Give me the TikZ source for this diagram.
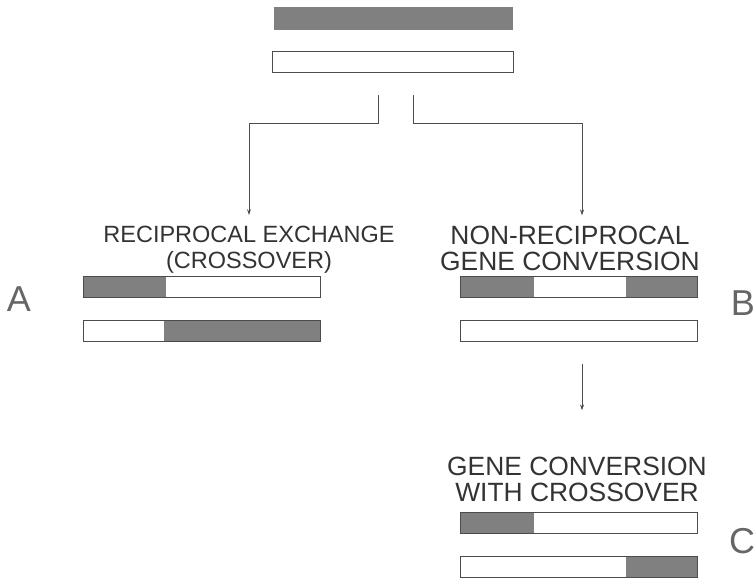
\documentclass[tikz,border=0pt]{standalone}
\usepackage{fontspec}
\setmainfont{Liberation Sans}
\usetikzlibrary{arrows.meta, positioning}

\begin{document}
\begin{tikzpicture}[
        x=1pt, y=-1pt,
        title/.style={align=center, inner sep=0pt, text=black!80, font=\fontsize{23.5}{26}\selectfont},
        wide/.style={font=\fontsize{26.4}{26}\selectfont},
        letter/.style={inner sep=0pt, text=black!60, font=\fontsize{36}{36}\selectfont},
        strand/.style={rectangle, draw=black!70, line width=0.9pt, fill=white, minimum width=237pt, minimum height=21pt, inner sep=0pt},
        dark/.style={fill=black!50},
        gene/.style 2 args={path picture={
            \fill[black!50] (path picture bounding box.north west) rectangle ([xshift=#1]path picture bounding box.south west);
            \fill[black!50] (path picture bounding box.north east) rectangle ([xshift=-#2]path picture bounding box.south east);}},
        arrow/.style={-{Stealth[length=6pt, width=4pt]}, line width=1pt, draw=black!70},
        node distance=22pt
    ]
        \useasboundingbox (0,0) rectangle (756,579);

        % parental strands
        \node[strand, dark, draw=black!50, minimum width=238pt, minimum height=22pt] (top1) at (393,18) {};
        \node[strand, below=of top1, minimum width=241pt] (top2) {};

        % the two outcomes
        \node[title] (recip) at (249,250) {RECIPROCAL EXCHANGE\\(CROSSOVER)};
        \node[title, wide] (nonrec) at (570,248) {NON-RECIPROCAL\\GENE CONVERSION};

        \node[strand, gene={82pt}{0pt}] (a1) at (202,287) {};
        \node[strand, gene={0pt}{157pt}, below=of a1] (a2) {};
        \node[strand, gene={73pt}{72pt}] (b1) at (579,287) {};
        \node[strand, below=of b1] (b2) {};

        % second step
        \node[title, wide] (conv) at (577,479) {GENE CONVERSION\\WITH CROSSOVER};
        \node[strand, gene={73pt}{0pt}] (c1) at (579,523) {};
        \node[strand, gene={0pt}{72pt}, below=of c1] (c2) {};

        \node[letter] (labA) at (19,299) {A};
        \node[letter] (labB) at (743,303) {B};
        \node[letter] (labC) at (742,541) {C};

        % connectors
        \coordinate[below=22pt of top2.south, xshift=-15pt] (forkL);
        \coordinate[below=22pt of top2.south, xshift=20pt] (forkR);
        \coordinate[above=11pt of recip.north] (tipL);
        \coordinate[above=10pt of nonrec.north, xshift=12pt] (tipR);
        \coordinate[above=46pt of conv.north, xshift=5pt] (tipC);
        \coordinate[below=22pt of b2.south] (stemC);

        \draw[arrow] (forkL) -- ++(0,28) -| (tipL);
        \draw[arrow] (forkR) -- ++(0,28) -| (tipR);
        \draw[arrow] (stemC -| tipC) -- (tipC);
    \end{tikzpicture}
\end{document}
